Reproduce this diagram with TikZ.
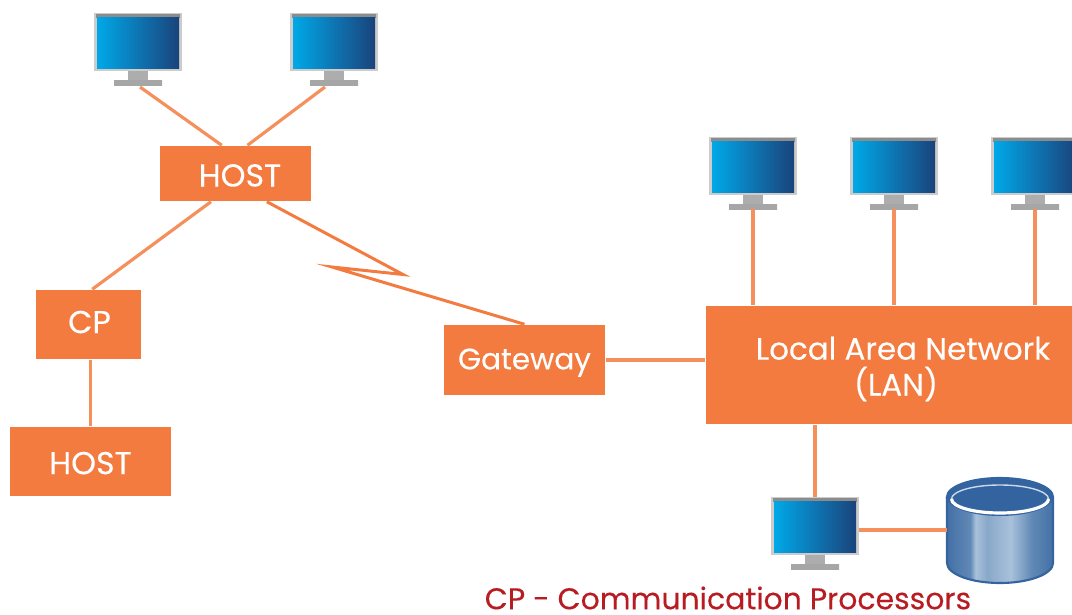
\documentclass[tikz,border=0pt]{standalone}
\usepackage{fontspec}
\setmainfont[FakeBold=0.2]{Poppins}
\usetikzlibrary{calc}
\definecolor{boxorange}{HTML}{F37B3F}
\definecolor{linkorange}{HTML}{F58F5C}
\definecolor{captionred}{HTML}{B71C22}
\definecolor{dbdark}{HTML}{4570A6}
\definecolor{dbtop}{HTML}{3464A0}
\definecolor{dbmid}{HTML}{6089B6}
\definecolor{dbplain}{HTML}{88A8C9}
\definecolor{dblight}{HTML}{A9C1DA}
\definecolor{screenleft}{HTML}{00A8E8}
\definecolor{screenmid}{HTML}{1278B4}
\definecolor{screenright}{HTML}{1A437C}
\pgfdeclarehorizontalshading{dbbody}{100bp}{color(0bp)=(dbdark); color(25bp)=(dbdark); color(36bp)=(dbmid); color(38.5bp)=(dblight); color(44bp)=(dbplain); color(55bp)=(dblight); color(65bp)=(dbmid); color(75bp)=(dbdark); color(100bp)=(dbdark)}
\tikzset{
	box/.style={fill=boxorange, text=white, inner sep=0pt, text depth=0pt, font=\fontsize{9}{10}\selectfont},
	link/.style={draw=linkorange, line width=0.9pt},
	bolt/.style={draw=boxorange, line width=0.85pt, line join=miter, miter limit=20},
}
\def\monitor(#1)(#2,#3){
	\begin{scope}[shift={(#2,#3)}]
		\fill[left color=black!35, middle color=black!12, right color=black!35] (-24,67) rectangle (24,72);
		\fill[black!32] (-10,58) rectangle (10,67);
		\fill[black!20] (-44,0) rectangle (44,58);
		\fill[left color=black!45, middle color=black!8, right color=black!45] (-42,1) rectangle (42,4);
		\fill[left color=screenleft, middle color=screenmid, right color=screenright] (-41,4) rectangle (41,55);
		\coordinate (#1-top) at (0,0);
		\coordinate (#1-east) at (44,33);
		\coordinate (#1-base) at (0,72);
	\end{scope}
}
\begin{document}
\begin{tikzpicture}[x=0.01cm, y=-0.01cm]
	%%%%% START %%%%%
	\useasboundingbox (0,0) rectangle (1072,615);
	
	\monitor(mona)(138,13)
	\monitor(monb)(334,13)
	\monitor(monc)(753,137)
	\monitor(mond)(894,137)
	\monitor(mone)(1035,137)
	\monitor(monf)(815,497)
	
	\node[box, text height=7.4pt, minimum width=1.51cm, minimum height=0.55cm] (hosta) at (235.5,173.5) {\hspace{0.09cm}HOST};
	\node[box, text height=4.9pt, minimum width=1.05cm, minimum height=0.69cm] (cp) at (88.5,324.5) {\hspace{0.02cm}CP};
	\node[box, text height=7.2pt, minimum width=1.61cm, minimum height=0.69cm] (hostb) at (90.5,461.5) {HOST};
	\node[box, text height=5.3pt, minimum width=1.61cm, minimum height=0.70cm, font=\fontsize{8.4}{10}\selectfont] (gateway) at (524.5,360) {Gateway};
	\node[box, minimum width=3.66cm, minimum height=1.18cm] (lan) at (889,365) {};
	\node[fill=none, text=white, inner sep=0pt, align=center, font=\fontsize{8.8}{10}\selectfont] (lantext) at (903,369) {Local Area Network\\[0.2pt](LAN)\hspace*{0.14cm}};
	
	\draw[link] (mona-base) ++(2,2) -- (hosta.116);
	\draw[link] (monb-base) ++(-9,2) -- (hosta.67);
	\draw[link] (hosta.229) -- (cp.84);
	\draw[link] (hostb.north) -- (hostb.north |- cp.south);
	\draw[link] (gateway.east) -- (gateway.east -| lan.west);
	\draw[link] (monc-base) -- (monc-base |- lan.north);
	\draw[link] (mond-base) -- (mond-base |- lan.north);
	\draw[link] (mone-base) -- (mone-base |- lan.north);
	\draw[link] (monf-top) -- (monf-top |- lan.south);
	
	\draw[bolt] (hosta.-42) -- (403,274.5) -- (332,267) -- (gateway.north);
	
	% database
	\draw[draw=dbtop, line width=0.6pt, shading=dbbody] (947,497) -- (947,563) arc (180:360:0.53cm and 0.2cm) -- (1053,497) arc (0:180:0.53cm and 0.19cm) -- cycle;
	\fill[dbtop] (1000,497) ellipse [x radius=0.53cm, y radius=0.19cm];
	\draw[draw=white!75!dbtop, line width=0.4pt] (1000,499) ellipse [x radius=0.485cm, y radius=0.14cm];
	\draw[draw=white, line width=0.9pt] (951.5,499) arc (180:360:0.485cm and 0.14cm);
	\coordinate (db-west) at (947,530);
	\draw[link] (monf-east) -- (db-west);
	
	\node[text=captionred, inner sep=0pt, font=\fontsize{8.5}{10}\selectfont] (caption) at (728,598) {CP - Communication Processors};
	%%%%% END %%%%%
\end{tikzpicture}
\end{document}
